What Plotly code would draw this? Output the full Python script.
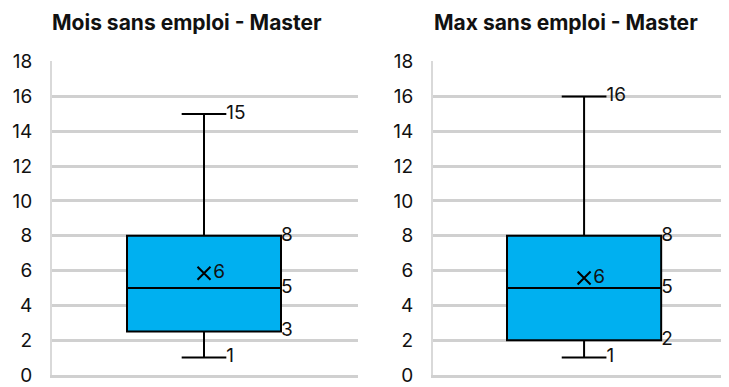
import plotly.graph_objects as go
from plotly.subplots import make_subplots

# Données
titles = ["Mois sans emploi - Master", "Max sans emploi - Master"]
minimums = [1, 1]
q1s = [2.5, 2]
medians = [5, 5]
q3s = [8, 8]
maximums = [15, 16]
means = [5.85, 5.57]
y_ticks = [0, 2, 4, 6, 8, 10, 12, 14, 16, 18]

BOX_COLOR = "#00B0F0"
GRID_COLOR = "#d0d0d0"
FONT = "Inter, Noto Sans, sans-serif"
LABEL_SIZE = 19
BOX_WIDTH = 1.0
WHISKER_W = 0.29

# la page ajoute une marge de 8 px autour du graphique
W, H = 721, 379

fig = make_subplots(rows=1, cols=2)

for i in range(2):
    col = i + 1
    fig.add_trace(go.Box(
        x=[0], q1=[q1s[i]], median=[medians[i]], q3=[q3s[i]],
        lowerfence=[minimums[i]], upperfence=[maximums[i]],
        width=BOX_WIDTH, whiskerwidth=WHISKER_W,
        fillcolor=BOX_COLOR, line=dict(color="black", width=2),
        boxpoints=False, hoverinfo="skip",
    ), row=1, col=col)

    # étiquettes des moustaches
    cap_x = WHISKER_W * BOX_WIDTH / 2
    fig.add_trace(go.Scatter(
        x=[cap_x, cap_x], y=[minimums[i], maximums[i]],
        mode="text", text=[str(minimums[i]), str(maximums[i])],
        textposition="middle right",
        textfont=dict(family=FONT, size=LABEL_SIZE, color="#111"),
        hoverinfo="skip",
    ), row=1, col=col)

    # étiquettes de la boîte
    edge_x = BOX_WIDTH / 2
    vals = [q1s[i], medians[i], q3s[i]]
    fig.add_trace(go.Scatter(
        x=[edge_x] * 3, y=vals,
        mode="text", text=[f"{v:.0f}" if v != 2.5 else "3" for v in vals],
        textposition="middle right",
        textfont=dict(family=FONT, size=LABEL_SIZE, color="#111"),
        hoverinfo="skip",
    ), row=1, col=col)

    # moyenne
    fig.add_trace(go.Scatter(
        x=[0], y=[means[i]], mode="markers+text",
        text=[f"{means[i]:.0f}"], textposition="middle right",
        textfont=dict(family=FONT, size=LABEL_SIZE, color="#111"),
        marker=dict(symbol="x-thin", size=13, line=dict(color="black", width=2)),
        hoverinfo="skip",
    ), row=1, col=col)

xaxis_style = dict(
    showticklabels=False, showgrid=False, zeroline=False, ticks="",
    showline=True, linecolor=GRID_COLOR, linewidth=2.5,
)

fig.update_layout(
    width=W, height=H,
    margin=dict(l=0, r=0, t=53, b=9),
    paper_bgcolor="white", plot_bgcolor="white",
    showlegend=False,
    font=dict(family=FONT, size=LABEL_SIZE, color="#111"),
    xaxis=dict(domain=[44 / W, 350 / W], range=[-0.987, 1.0], **xaxis_style),
    xaxis2=dict(domain=[425 / W, 1.0], range=[-0.98, 0.94], **xaxis_style),
)

yaxis_style = dict(
    range=[0, 18.04], tickvals=y_ticks, showgrid=True,
    gridcolor=GRID_COLOR, gridwidth=2.5, zeroline=False,
    showline=True, linecolor="#d9d9d9", linewidth=2,
    ticks="", ticklabelstandoff=14, ticklabeloverflow="allow",
    tickfont=dict(family=FONT, size=LABEL_SIZE, color="#111"),
)
fig.update_yaxes(**yaxis_style)

plot_h = H - 53 - 9
title_x = [179 / W, 558 / W]
for i, t in enumerate(titles):
    fig.add_annotation(
        text=f"<b>{t}</b>", x=title_x[i], y=(plot_h + 39) / plot_h,
        xref="paper", yref="paper", showarrow=False,
        xanchor="center", yanchor="middle",
        font=dict(family=FONT, size=21, color="#111"),
    )

fig.write_html("out.html")
